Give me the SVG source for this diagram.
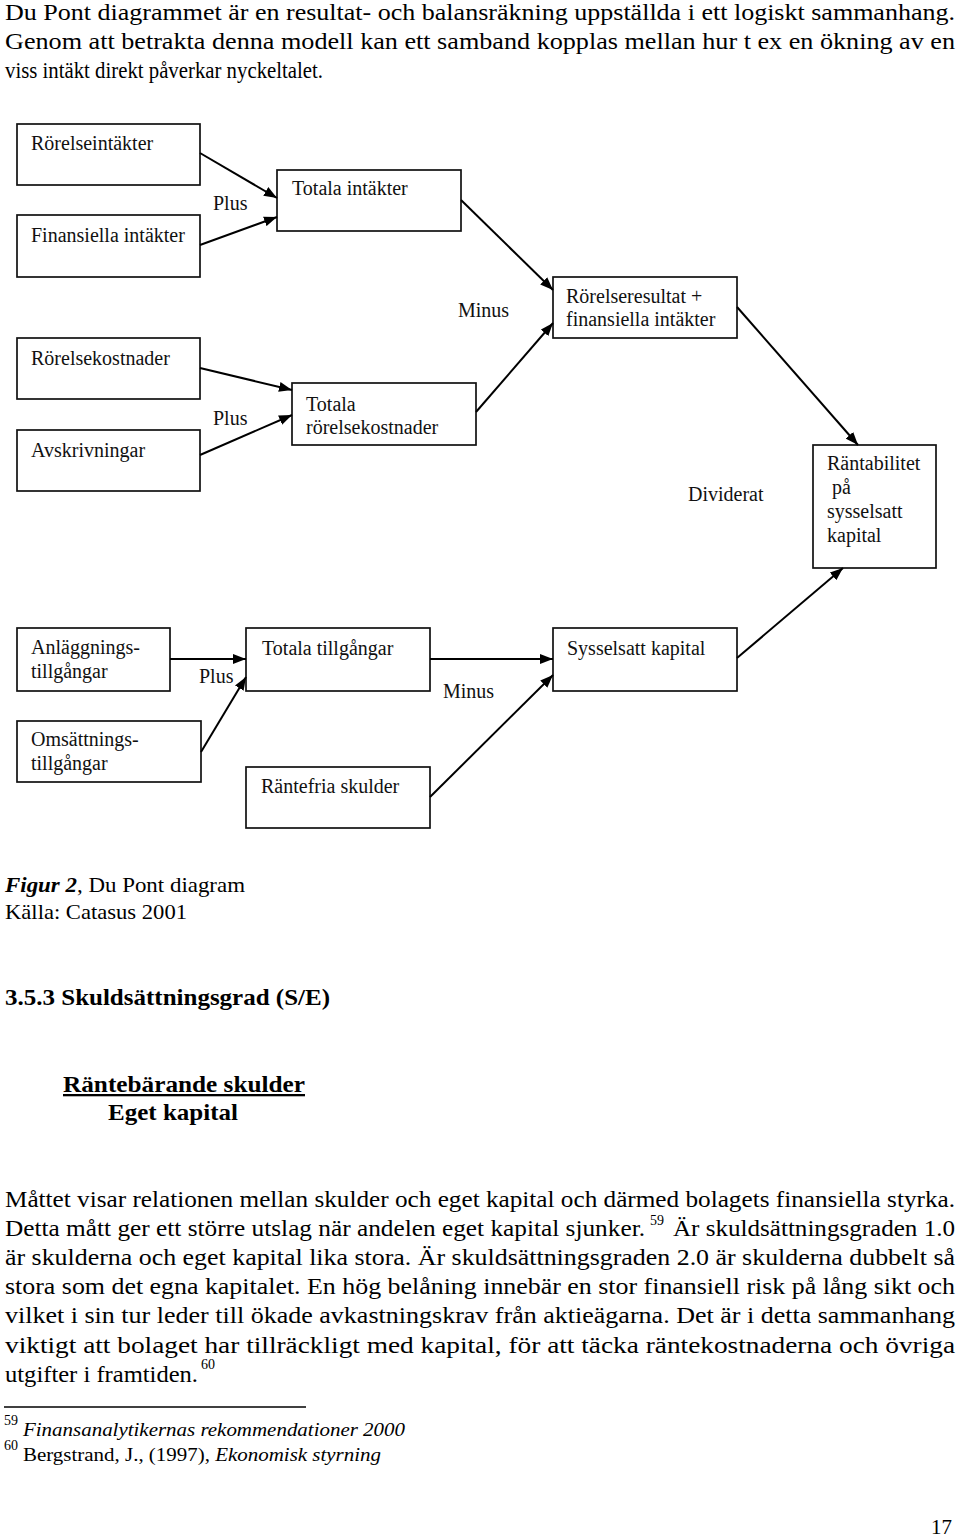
<svg xmlns="http://www.w3.org/2000/svg" width="960" height="1537" viewBox="0 0 960 1537">
<defs>
<marker id="ah" markerUnits="userSpaceOnUse" markerWidth="14" markerHeight="11" refX="13" refY="5.5" orient="auto"><path d="M0,0.5 L13,5.5 L0,10.5 Z" fill="#000"/></marker>
<style>
.b{fill:#fff;stroke:#111;stroke-width:1.7}
.t{font-family:"Liberation Serif","Times New Roman",serif;font-size:20px;fill:#111}
.p{font-family:"Liberation Serif","Times New Roman",serif;font-size:24px;fill:#000}
.c{font-family:"Liberation Serif","Times New Roman",serif;font-size:21px;fill:#000}
.h{font-family:"Liberation Serif","Times New Roman",serif;font-size:23px;font-weight:bold;fill:#000}
.f{font-family:"Liberation Serif","Times New Roman",serif;font-size:19px;fill:#000}
.s{font-family:"Liberation Serif","Times New Roman",serif;font-size:14px;fill:#000}
.con line{stroke:#000;stroke-width:2;marker-end:url(#ah)}
</style>
</defs>
<rect width="960" height="1537" fill="#fff"/>

<g id="intro">
<text class="p" x="5" y="20" textLength="950" lengthAdjust="spacingAndGlyphs">Du Pont diagrammet är en resultat- och balansräkning uppställda i ett logiskt sammanhang.</text>
<text class="p" x="5" y="49" textLength="950" lengthAdjust="spacingAndGlyphs">Genom att betrakta denna modell kan ett samband kopplas mellan hur t ex en ökning av en</text>
<text class="p" x="5" y="78" textLength="318" lengthAdjust="spacingAndGlyphs">viss intäkt direkt påverkar nyckeltalet.</text>
</g>

<g id="n-rorelseintakter"><rect class="b" x="17" y="124" width="183" height="61"/><text class="t" x="31" y="150">Rörelseintäkter</text></g>
<g id="n-finansiella-intakter"><rect class="b" x="17" y="215" width="183" height="62"/><text class="t" x="31" y="242">Finansiella intäkter</text></g>
<g id="n-totala-intakter"><rect class="b" x="277" y="170" width="184" height="61"/><text class="t" x="292" y="195">Totala intäkter</text></g>
<g id="n-rorelseresultat"><rect class="b" x="553" y="277" width="184" height="61"/><text class="t" x="566" y="303">Rörelseresultat +</text><text class="t" x="566" y="326">finansiella intäkter</text></g>
<g id="n-rorelsekostnader"><rect class="b" x="17" y="338" width="183" height="61"/><text class="t" x="31" y="365">Rörelsekostnader</text></g>
<g id="n-avskrivningar"><rect class="b" x="17" y="430" width="183" height="61"/><text class="t" x="31" y="457">Avskrivningar</text></g>
<g id="n-totala-rorelsekostnader"><rect class="b" x="292" y="383" width="184" height="62"/><text class="t" x="306" y="411">Totala</text><text class="t" x="306" y="434">rörelsekostnader</text></g>
<g id="n-rantabilitet"><rect class="b" x="813" y="445" width="123" height="123"/><text class="t" x="827" y="470">Räntabilitet</text><text class="t" x="832" y="494">på</text><text class="t" x="827" y="518">sysselsatt</text><text class="t" x="827" y="542">kapital</text></g>
<g id="n-anlaggningstillgangar"><rect class="b" x="17" y="628" width="153" height="63"/><text class="t" x="31" y="654">Anläggnings-</text><text class="t" x="31" y="678">tillgångar</text></g>
<g id="n-omsattningstillgangar"><rect class="b" x="17" y="721" width="184" height="61"/><text class="t" x="31" y="746">Omsättnings-</text><text class="t" x="31" y="770">tillgångar</text></g>
<g id="n-totala-tillgangar"><rect class="b" x="246" y="628" width="184" height="63"/><text class="t" x="262" y="655">Totala tillgångar</text></g>
<g id="n-rantefria-skulder"><rect class="b" x="246" y="767" width="184" height="61"/><text class="t" x="261" y="793">Räntefria skulder</text></g>
<g id="n-sysselsatt-kapital"><rect class="b" x="553" y="628" width="184" height="63"/><text class="t" x="567" y="655">Sysselsatt kapital</text></g>

<g id="connectors" class="con">
<line x1="200" y1="153" x2="277" y2="198"/>
<line x1="200" y1="245" x2="277" y2="217"/>
<line x1="461" y1="200" x2="553" y2="290"/>
<line x1="476" y1="412" x2="553" y2="323"/>
<line x1="200" y1="368" x2="292" y2="390"/>
<line x1="200" y1="455" x2="292" y2="415"/>
<line x1="737" y1="307" x2="858" y2="445"/>
<line x1="737" y1="658" x2="843" y2="568"/>
<line x1="170" y1="659" x2="246" y2="659"/>
<line x1="201" y1="752" x2="246" y2="677"/>
<line x1="430" y1="659" x2="553" y2="659"/>
<line x1="430" y1="797" x2="553" y2="675"/>
</g>

<g id="labels">
<text class="t" x="213" y="210">Plus</text>
<text class="t" x="458" y="317">Minus</text>
<text class="t" x="213" y="425">Plus</text>
<text class="t" x="688" y="501">Dividerat</text>
<text class="t" x="199" y="683">Plus</text>
<text class="t" x="443" y="698">Minus</text>
</g>

<g id="caption">
<text class="c" x="5" y="892" textLength="240" lengthAdjust="spacingAndGlyphs"><tspan font-weight="bold" font-style="italic">Figur 2</tspan>, Du Pont diagram</text>
<text class="c" x="5" y="919" textLength="182" lengthAdjust="spacingAndGlyphs">Källa: Catasus 2001</text>
</g>

<g id="heading">
<text class="h" x="5" y="1005" textLength="325" lengthAdjust="spacingAndGlyphs">3.5.3 Skuldsättningsgrad (S/E)</text>
<text class="h" x="63" y="1092" textLength="242" lengthAdjust="spacingAndGlyphs" text-decoration="underline">Räntebärande skulder</text>
<text class="h" x="108" y="1120" textLength="130" lengthAdjust="spacingAndGlyphs">Eget kapital</text>
</g>

<g id="body">
<text class="p" x="5" y="1207" textLength="950" lengthAdjust="spacingAndGlyphs">Måttet visar relationen mellan skulder och eget kapital och därmed bolagets finansiella styrka.</text>
<text class="p" x="5" y="1236" textLength="640" lengthAdjust="spacingAndGlyphs">Detta mått ger ett större utslag när andelen eget kapital sjunker.</text>
<text class="s" x="650" y="1225">59</text>
<text class="p" x="673" y="1236" textLength="282" lengthAdjust="spacingAndGlyphs">Är skuldsättningsgraden 1.0</text>
<text class="p" x="5" y="1265" textLength="950" lengthAdjust="spacingAndGlyphs">är skulderna och eget kapital lika stora. Är skuldsättningsgraden 2.0 är skulderna dubbelt så</text>
<text class="p" x="5" y="1294" textLength="950" lengthAdjust="spacingAndGlyphs">stora som det egna kapitalet. En hög belåning innebär en stor finansiell risk på lång sikt och</text>
<text class="p" x="5" y="1323" textLength="950" lengthAdjust="spacingAndGlyphs">vilket i sin tur leder till ökade avkastningskrav från aktieägarna. Det är i detta sammanhang</text>
<text class="p" x="5" y="1353" textLength="950" lengthAdjust="spacingAndGlyphs">viktigt att bolaget har tillräckligt med kapital, för att täcka räntekostnaderna och övriga</text>
<text class="p" x="5" y="1382" textLength="193" lengthAdjust="spacingAndGlyphs">utgifter i framtiden.</text>
<text class="s" x="201" y="1369">60</text>
</g>

<g id="footnotes">
<line x1="4" y1="1407" x2="306" y2="1407" stroke="#000" stroke-width="1.3"/>
<text class="s" x="4" y="1425">59</text>
<text class="f" x="23" y="1436" font-style="italic" textLength="382" lengthAdjust="spacingAndGlyphs">Finansanalytikernas rekommendationer 2000</text>
<text class="s" x="4" y="1450">60</text>
<text class="f" x="23" y="1461" textLength="358" lengthAdjust="spacingAndGlyphs">Bergstrand, J., (1997), <tspan font-style="italic">Ekonomisk styrning</tspan></text>
</g>

<text class="c" x="931" y="1534" font-size="23">17</text>
</svg>
